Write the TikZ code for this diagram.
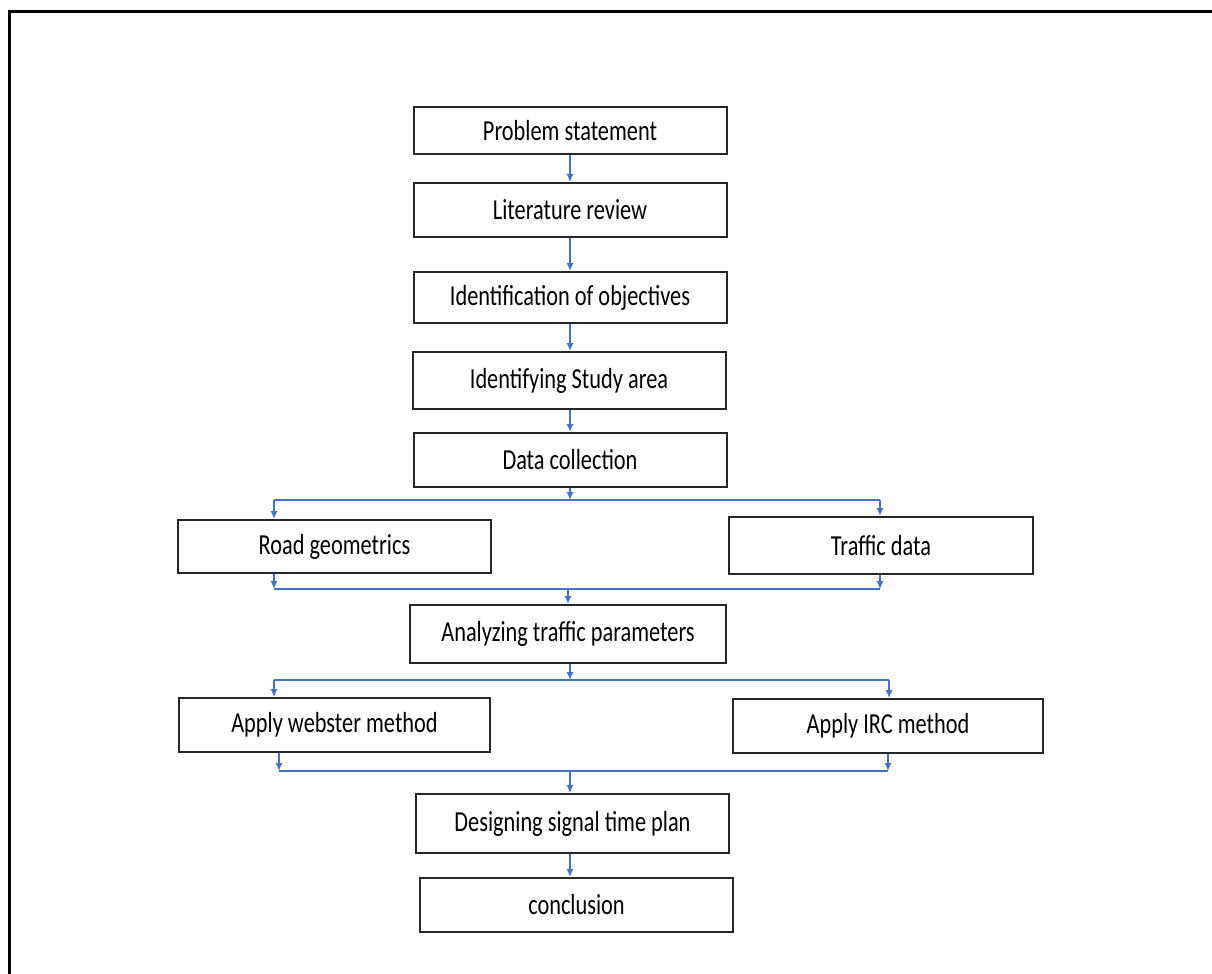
\documentclass[tikz,border=0pt]{standalone}
\usepackage{fontspec}
\setmainfont{Carlito}[FakeStretch=0.77]
\usetikzlibrary{arrows.meta}
\definecolor{flowblue}{HTML}{4472C4}
\tikzset{>={Latex[length=4pt,width=3.6pt]}}

\begin{document}
\begin{tikzpicture}[x=0.5pt, y=-0.5pt,
    box/.style={draw=black!85, line width=1pt, minimum width=156.5pt,
      minimum height=27pt, inner sep=0pt, font=\fontsize{14.5}{17}\selectfont},
    flow/.style={draw=flowblue, line width=0.75pt}]
    \useasboundingbox (0,0) rectangle (1212,974);
    \draw[line width=1.5pt] (9.5,974) -- (9.5,11.5) -- (1212,11.5);
    % boxes
    \node[box, minimum height=23.5pt] (ps) at (570,130.5) {Problem statement};
    \node[box] (lr) at (570,210) {Literature review};
    \node[box, minimum height=25.5pt] (io) at (570,297.5) {Identification of objectives};
    \node[box, minimum height=28.5pt] (isa) at (569,380.5) {Identifying Study area};
    \node[box] (dc) at (570,460) {Data collection};
    \node[box, minimum height=26.5pt] (rg) at (334.5,546.5) {Road geometrics};
    \node[box, minimum width=152pt, minimum height=28.5pt] (td) at (881,545.5) {Traffic data};
    \node[box, minimum width=158pt, minimum height=29pt] (atp) at (568,634) {Analyzing traffic parameters};
    \node[box, minimum width=155.5pt] (wm) at (334.5,725) {Apply webster method};
    \node[box, minimum width=155pt] (irc) at (888,726) {Apply IRC method};
    \node[box, minimum height=29.5pt] (dst) at (572.5,823.5) {Designing signal time plan};
    \node[box] (con) at (576.5,905) {conclusion};
    % junctions
    \coordinate (s1) at (570,500); \coordinate (s1l) at (274,500); \coordinate (s1r) at (880,500);
    \coordinate (m1) at (568,589); \coordinate (m1l) at (274,589); \coordinate (m1r) at (880,589);
    \coordinate (s2) at (570,680); \coordinate (s2l) at (274,680); \coordinate (s2r) at (889,680);
    \coordinate (m2) at (570,771); \coordinate (m2l) at (279,771); \coordinate (m2r) at (888,771);
    % connectors
    \draw[flow,->] (ps.south -| s1) -- (lr.north -| s1);
    \draw[flow,->] (lr.south -| s1) -- (io.north -| s1);
    \draw[flow,->] (io.south -| s1) -- (isa.north -| s1);
    \draw[flow,->] (isa.south -| s1) -- (dc.north -| s1);
    \draw[flow,->] (dc.south -| s1) -- (s1);
    \draw[flow] (s1l) -- (s1r);
    \draw[flow,->] (s1l) -- (s1l |- rg.north);
    \draw[flow,->] (s1r) -- (s1r |- td.north);
    \draw[flow,->] (rg.south -| m1l) -- (m1l);
    \draw[flow,->] (td.south -| m1r) -- (m1r);
    \draw[flow] (m1l) -- (m1r);
    \draw[flow,->] (m1) -- (m1 |- atp.north);
    \draw[flow,->] (atp.south -| s2) -- (s2);
    \draw[flow] (s2l) -- (s2r);
    \draw[flow,->] (s2l) -- (s2l |- wm.north);
    \draw[flow,->] (s2r) -- (s2r |- irc.north);
    \draw[flow,->] (wm.south -| m2l) -- (m2l);
    \draw[flow,->] (irc.south -| m2r) -- (m2r);
    \draw[flow] (m2l) -- (m2r);
    \draw[flow,->] (m2) -- (m2 |- dst.north);
    \draw[flow,->] (dst.south -| m2) -- (con.north -| m2);
\end{tikzpicture}
\end{document}
